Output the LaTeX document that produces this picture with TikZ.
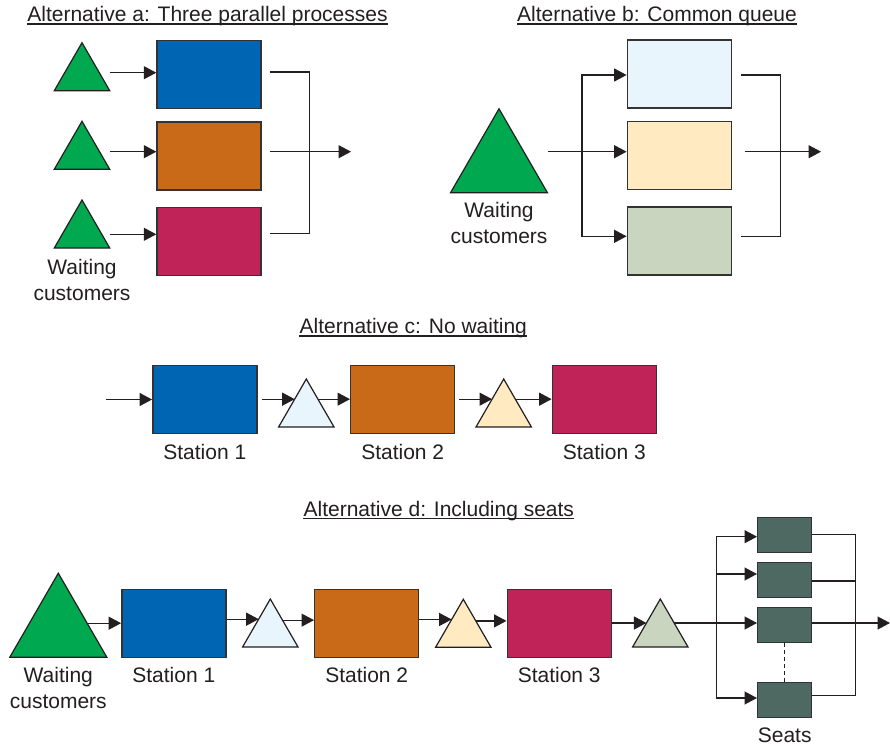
\documentclass[tikz,border=0pt]{standalone}
\usepackage{fontspec}
\setmainfont{Liberation Sans}
\usetikzlibrary{arrows.meta,shapes.geometric,calc}

\definecolor{ink}{HTML}{231F20}
\definecolor{edge}{HTML}{333333}
\definecolor{blu}{HTML}{0066B3}
\definecolor{org}{HTML}{C96A18}
\definecolor{mag}{HTML}{C02357}
\definecolor{grn}{HTML}{00A94F}
\definecolor{lblu}{HTML}{E8F5FC}
\definecolor{lyel}{HTML}{FFEAC2}
\definecolor{sage}{HTML}{CAD5BF}
\definecolor{seatc}{HTML}{4D6962}

\begin{document}
\begin{tikzpicture}[x=1pt,y=-1pt,
  every node/.style={font=\fontsize{21}{26}\selectfont, text=ink},
  stn/.style={draw=edge, line width=1.4pt, minimum width=104pt, minimum height=68pt, inner sep=0pt},
  seat/.style={draw=edge, line width=1.4pt, minimum width=54pt, minimum height=35pt, inner sep=0pt, fill=seatc},
  qs/.style={regular polygon, regular polygon sides=3, draw=ink, line width=1.2pt, minimum size=64pt, inner sep=0pt, outer sep=0pt},
  ql/.style={qs, minimum size=112pt},
  conn/.style={draw=ink, line width=1.25pt},
  flow/.style={conn, -{Triangle[length=12.5pt,width=13pt]}},
  ttl/.style={inner sep=0pt, anchor=base},
  uline/.style={draw=ink, line width=1.2pt},
  lbl/.style={inner sep=0pt, anchor=base, align=center},
]
\fill[white] (0,0) rectangle (890,747);
\useasboundingbox (0,0) rectangle (890,747);

% ---------- a: three parallel processes ----------
\node[ttl] (ta) at (207.5,21.5) {Alternative a: Three parallel processes};
\draw[uline] ([yshift=-2.5pt]ta.base west) -- ([yshift=-2.5pt]ta.base east);

\node[qs, fill=grn] (aq1) at (82,74.7) {};
\node[qs, fill=grn] (aq2) at (82,153.3) {};
\node[qs, fill=grn] (aq3) at (82,232) {};
\node[stn, fill=blu] (ab1) at (209,74.3) {};
\node[stn, fill=org] (ab2) at (209,155.8) {};
\node[stn, fill=mag] (ab3) at (209,241.2) {};
\node[lbl, anchor=center] (awl) at (82,279.5) {Waiting\\customers};

\coordinate (ai1) at ([yshift=1.6pt]ab1.west);
\coordinate (ai2) at ([yshift=4.1pt]ab2.west);
\coordinate (ai3) at ([yshift=6.9pt]ab3.west);
\draw[flow] (aq1.corner 3 |- ai1) -- (ai1);
\draw[flow] (aq2.corner 3 |- ai2) -- (ai2);
\draw[flow] (aq3.corner 3 |- ai3) -- (ai3);

\coordinate (ao1) at ([xshift=8pt,yshift=2.3pt]ab1.east);
\coordinate (ao2) at ([xshift=8pt,yshift=4.1pt]ab2.east);
\coordinate (ao3) at ([xshift=8pt,yshift=7.5pt]ab3.east);
\coordinate (amerge) at (309.3,151.7);
\coordinate (aout) at (351,151.7);
\draw[conn] (ao1) -| (amerge) |- (ao3);
\draw[flow] (ao2) -- (aout);

% ---------- b: common queue ----------
\node[ttl] (tb) at (657,21.5) {Alternative b: Common queue};
\draw[uline] ([yshift=-2.5pt]tb.base west) -- ([yshift=-2.5pt]tb.base east);

\node[ql, fill=grn] (bq) at (499,164.8) {};
\node[stn, fill=lblu] (bb1) at (679.3,73.8) {};
\node[stn, fill=lyel] (bb2) at (679.3,155.2) {};
\node[stn, fill=sage] (bb3) at (679.3,240.8) {};
\node[lbl, anchor=center] (bwl) at (499,223.3) {Waiting\\customers};

\coordinate (bsplit) at (582,151.7);
\draw[flow] (bq.corner 3 |- bsplit) -- (bsplit -| bb2.west);
\draw[flow] (bsplit) |- ([yshift=-1.2pt]bb1.west);
\draw[flow] (bsplit) |- ([yshift=4.5pt]bb3.west);

\coordinate (bo1) at ([xshift=9pt,yshift=-1.2pt]bb1.east);
\coordinate (bo3) at ([xshift=9pt,yshift=4.5pt]bb3.east);
\coordinate (bmerge) at (780.7,151.7);
\coordinate (bout) at (821,151.7);
\path (bmerge -| bb2.east) ++(12.6,0) coordinate (bo2);
\draw[conn] (bo1) -| (bmerge) |- (bo3);
\draw[flow] (bo2) -- (bout);

% ---------- c: no waiting ----------
\node[ttl] (tc) at (413.3,333.5) {Alternative c: No waiting};
\draw[uline] ([yshift=-2.5pt]tc.base west) -- ([yshift=-2.5pt]tc.base east);

\node[stn, fill=blu] (cs1) at (204.8,399.5) {};
\node[stn, fill=org] (cs2) at (402.7,399.5) {};
\node[stn, fill=mag] (cs3) at (604.3,399.5) {};
\node[qs, fill=lblu] (cq1) at (306.3,411) {};
\node[qs, fill=lyel] (cq2) at (503.7,411) {};
\node[lbl] (cl1) at ([yshift=-25pt]cs1.south) {Station 1};
\node[lbl] (cl2) at ([yshift=-25pt]cs2.south) {Station 2};
\node[lbl] (cl3) at ([yshift=-25pt]cs3.south) {Station 3};

\coordinate (cin) at (105.7,399.5);
\draw[flow] (cin) -- (cs1.west);
\coordinate (cq1l) at ($(cq1.corner 1)!0.42!(cq1.corner 2)$);
\coordinate (cq1r) at ($(cq1.corner 1)!0.42!(cq1.corner 3)$);
\coordinate (cq2l) at ($(cq2.corner 1)!0.42!(cq2.corner 2)$);
\coordinate (cq2r) at ($(cq2.corner 1)!0.42!(cq2.corner 3)$);
\path (cq1l -| cs1.east) ++(4,0) coordinate (c1o);
\path (cq2l -| cs2.east) ++(4,0) coordinate (c2o);
\draw[flow] (c1o) -- (cq1l);
\draw[flow] (cq1r) -- (cq1r -| cs2.west);
\draw[flow] (c2o) -- (cq2l);
\draw[flow] (cq2r) -- (cq2r -| cs3.west);

% ---------- d: including seats ----------
\node[ttl] (td) at (438.8,516) {Alternative d: Including seats};
\draw[uline] ([yshift=-2.5pt]td.base west) -- ([yshift=-2.5pt]td.base east);

\node[ql, fill=grn] (dq) at (58.3,629.2) {};
\node[stn, fill=blu] (ds1) at (173.8,623.2) {};
\node[stn, fill=org] (ds2) at (366.7,623.2) {};
\node[stn, fill=mag] (ds3) at (559.2,623.2) {};
\node[qs, fill=lblu] (dq1) at (270.3,631) {};
\node[qs, fill=lyel] (dq2) at (463.3,631.3) {};
\node[qs, fill=sage] (dq3) at (660.3,631) {};
\node[lbl, anchor=center] (dwl) at (58.3,688) {Waiting\\customers};
\node[lbl] (dl1) at ([yshift=-25pt]ds1.south) {Station 1};
\node[lbl] (dl2) at ([yshift=-25pt]ds2.south) {Station 2};
\node[lbl] (dl3) at ([yshift=-25pt]ds3.south) {Station 3};

\coordinate (dqr) at ($(dq.corner 1)!0.595!(dq.corner 3)$);
\draw[flow] (dqr) -- (dqr -| ds1.west);

\coordinate (dq1l) at ($(dq1.corner 1)!0.42!(dq1.corner 2)$);
\coordinate (dq1r) at ($(dq1.corner 1)!0.44!(dq1.corner 3)$);
\coordinate (dq2l) at ($(dq2.corner 1)!0.42!(dq2.corner 2)$);
\coordinate (dq2r) at ($(dq2.corner 1)!0.45!(dq2.corner 3)$);
\coordinate (dq3l) at ($(dq3.corner 1)!0.5!(dq3.corner 2)$);
\coordinate (dq3r) at ($(dq3.corner 1)!0.5!(dq3.corner 3)$);
\draw[flow] (dq1l -| ds1.east) -- (dq1l);
\draw[flow] (dq1r) -- (dq1r -| ds2.west);
\draw[flow] (dq2l -| ds2.east) -- (dq2l);
\draw[flow] (dq2r) -- (dq2r -| ds3.west);
\draw[flow] (dq3l -| ds3.east) -- (dq3l);

% seats
\node[seat] (se1) at (784.7,534.7) {};
\node[seat] (se2) at (784.7,579.7) {};
\node[seat] (se3) at (784.7,625) {};
\node[seat] (se4) at (784.7,699.7) {};
\node[lbl] (sl) at ([yshift=-25pt]se4.south) {Seats};

\path (dq3r) -| coordinate (dsplit) (716.7,0);
\coordinate (si1) at ([yshift=-2pt]se1.west);
\coordinate (si2) at ([yshift=5.7pt]se2.west);
\coordinate (si4) at ([yshift=1.7pt]se4.west);
\draw[flow] (dq3r) -- (dq3r -| se3.west);
\draw[flow] (dsplit) |- (si1);
\draw[flow] (dsplit |- si2) -- (si2);
\draw[flow] (dsplit) |- (si4);

\path (dq3r) -| coordinate (dmerge) (855.3,0);
\coordinate (dout) at (890,0 |- dq3r);
\coordinate (so2) at ([yshift=-1.3pt]se2.east);
\coordinate (so4) at ([yshift=4pt]se4.east);
\draw[conn] (se1.east) -| (dmerge) |- (so4);
\draw[conn] (so2) -- (so2 -| dmerge);
\draw[flow] (dmerge -| se3.east) -- (dout);
\draw[conn, dash pattern=on 4pt off 3pt] (se3.south) -- (se4.north);
\end{tikzpicture}
\end{document}
